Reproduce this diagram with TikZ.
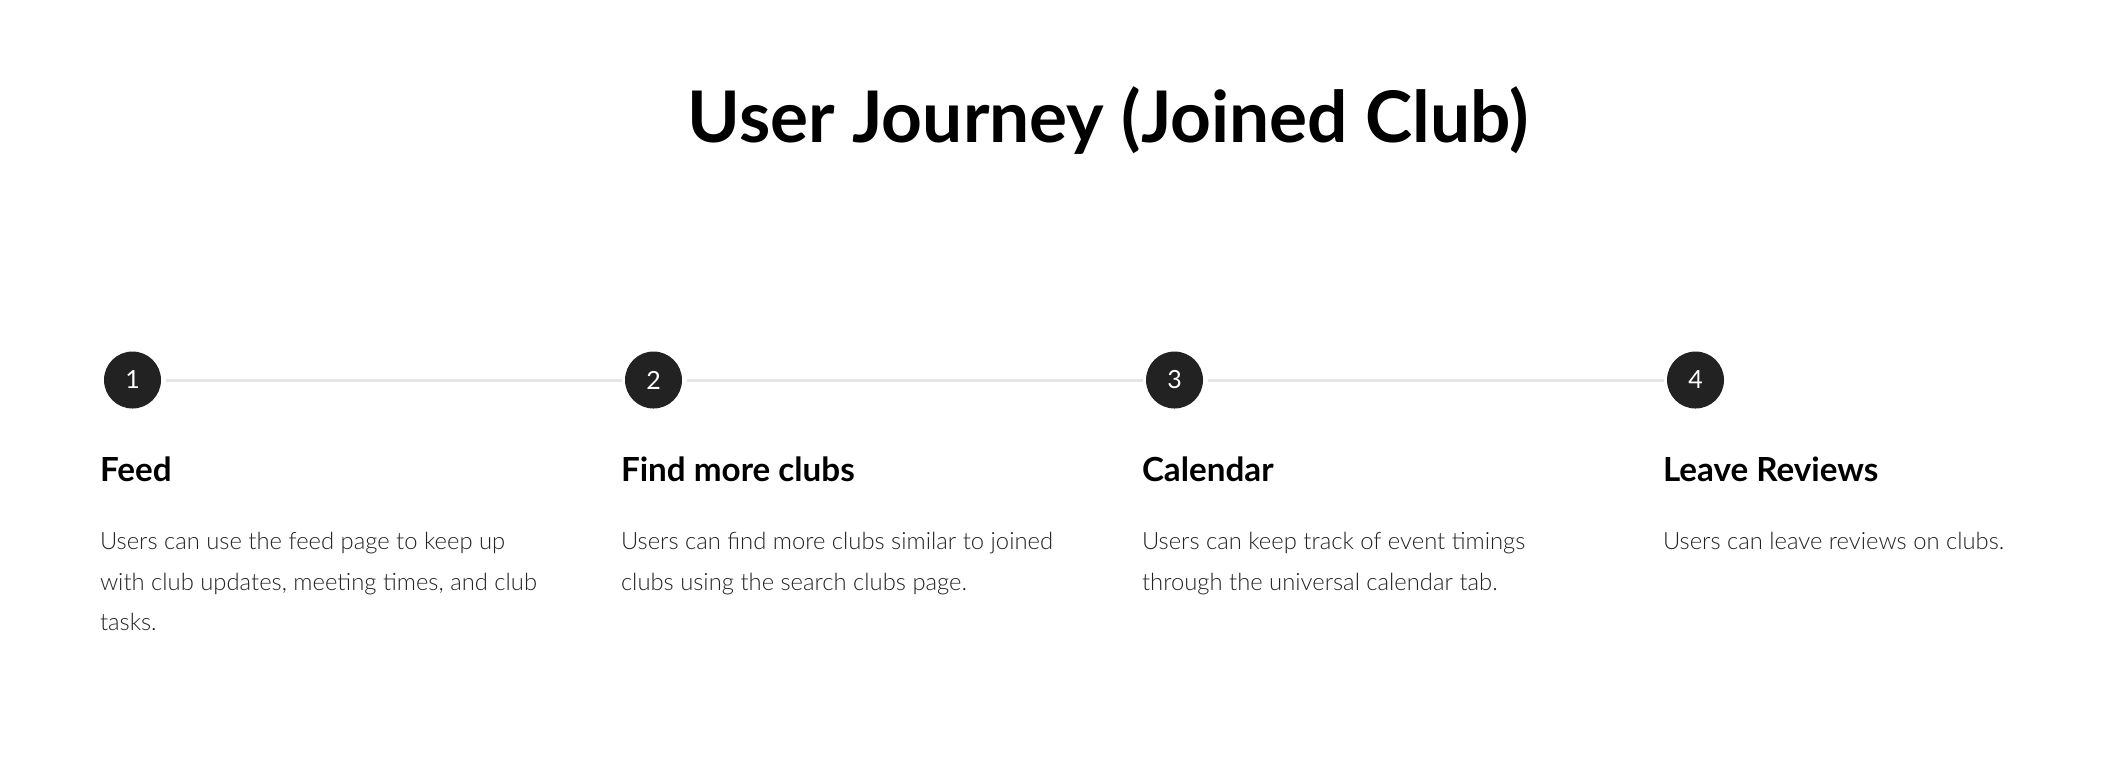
\documentclass[tikz,border=0pt]{standalone}
\usepackage{fontspec}
\setmainfont{Lato}
\newfontfamily\lightlato{Lato Light}
\usetikzlibrary{positioning}
\definecolor{inkdark}{HTML}{222222}
\definecolor{bodygray}{HTML}{222222}
\definecolor{trackgray}{HTML}{E6E6E6}

\begin{document}
\begin{tikzpicture}
  [x=0.5pt,y=-0.5pt,
   stage/.style={
     circle,
     fill=inkdark,
     text=white,
     minimum size=28.5pt,
     inner sep=0pt,
     font=\fontsize{12.5}{14}\selectfont
     },
   heading/.style={
     inner sep=0pt,
     text=black,
     font=\fontsize{16.6}{19}\selectfont\bfseries
     },
   blurb/.style={
     inner sep=0pt,
     align=left,
     text=bodygray,
     font=\lightlato\fontsize{11.9}{20.3}\selectfont
     },
   track/.style={
     draw=trackgray,
     line width=1.5pt,
     shorten <=2.5pt,
     shorten >=1.5pt
     }
  ]
  \useasboundingbox (0,0) rectangle (2120,768);

  \node [font=\fontsize{35.6}{40}\selectfont\bfseries, anchor=base] (title)
    at (1108,142.7) {User Journey (Joined Club)};

  % the four steps
  \node [stage] (one) at (132.5,380) {1};
  \node [stage, right=260.5pt of one.center, anchor=center] (two) {2};
  \node [stage, right=260.5pt of two.center, anchor=center] (three) {3};
  \node [stage, right=260.5pt of three.center, anchor=center] (four) {4};

  \draw [track] (one) -- (two);
  \draw [track] (two) -- (three);
  \draw [track] (three) -- (four);

  % headings
  \node [heading, below=50.75pt of one.west, anchor=base west, xshift=-2pt] (feedtitle) {Feed};
  \node [heading, below=50.75pt of two.west, anchor=base west, xshift=-2pt] (findtitle) {Find more clubs};
  \node [heading, below=50.75pt of three.west, anchor=base west, xshift=-2pt] (calendartitle) {Calendar};
  \node [heading, below=50.75pt of four.west, anchor=base west, xshift=-2pt] (reviewstitle) {Leave Reviews};

  % descriptions (base = last line, so the gap grows with the lines)
  \node [blurb, below=74.6pt of feedtitle.base west, anchor=base west] (feed)
    {Users can use the feed page to keep up\\
     with club updates, meeting times, and club\\
     tasks.};
  \node [blurb, below=54.3pt of findtitle.base west, anchor=base west] (find)
    {Users can find more clubs similar to joined\\
     clubs using the search clubs page.};
  \node [blurb, below=54.3pt of calendartitle.base west, anchor=base west] (calendar)
    {Users can keep track of event timings\\
     through the universal calendar tab.};
  \node [blurb, below=34pt of reviewstitle.base west, anchor=base west] (reviews)
    {Users can leave reviews on clubs.};
\end{tikzpicture}
\end{document}
